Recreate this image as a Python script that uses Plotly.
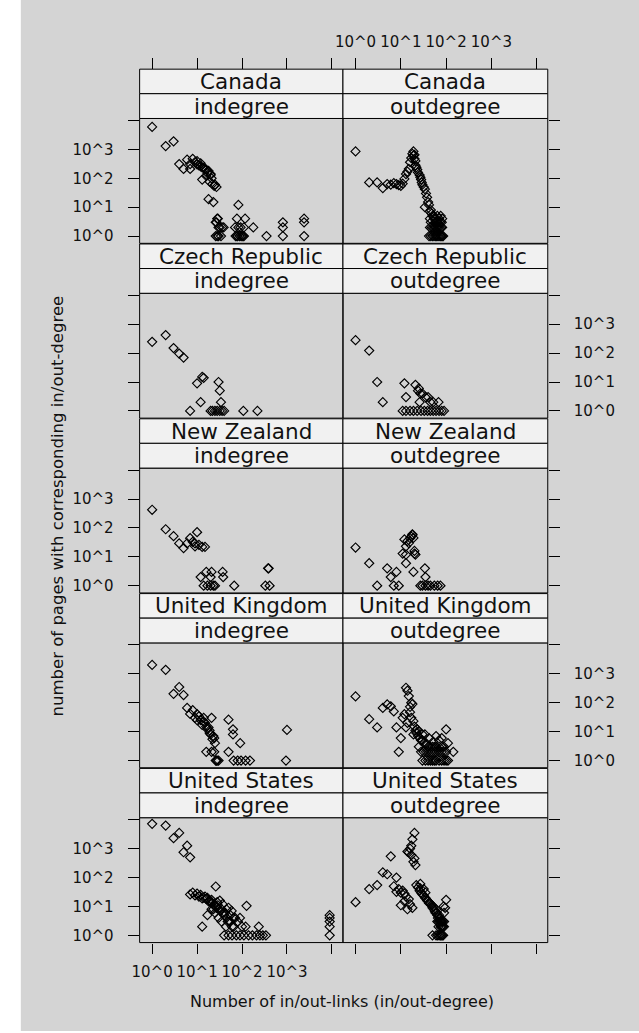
import plotly.graph_objects as go

W, H = 639, 1033

countries = ["Canada", "Czech Republic", "New Zealand", "United Kingdom", "United States"]
directions = ["indegree", "outdegree"]

# ---- data (degree, number of pages) ----
ca_in_x = [1, 2, 3, 4, 5, 7, 6, 8, 7, 9, 11, 13, 15, 18, 13, 16, 19, 22, 24, 18, 23, 28, 26, 30, 39, 26, 34,
           83, 77, 117, 70, 83, 93, 110, 178, 77, 88, 100, 110, 350, 810, 810, 810, 2400, 2400, 2400,
           10, 12, 14, 16, 17, 20, 21, 25, 27, 20, 12, 10, 27, 29, 32, 36, 28, 30, 72, 80, 95, 105]
ca_in_y = [6000, 1300, 1900, 310, 210, 210, 440, 470, 310, 360, 280, 240, 210, 180, 90, 120, 76, 63, 55, 19, 15, 4, 3, 2, 2, 1, 1,
           12, 4, 4, 2, 2, 2, 2, 2, 1, 1, 1, 1, 1, 3, 2, 1, 4, 3, 1,
           300, 260, 230, 200, 150, 130, 100, 60, 50, 140, 330, 390, 3, 4, 2, 2, 1, 1, 1, 1, 1, 1]

ca_out_x = [1, 2, 3, 4, 5, 7, 8, 10, 12, 13, 15, 16, 19, 19, 20, 21, 22, 27, 29, 34, 40, 34, 44, 52, 60, 70, 82,
            44, 56, 68, 82, 42, 50, 58, 66, 75, 82,
            6, 9, 11, 14, 17, 18, 20, 21, 23, 24, 26, 28, 30, 32, 36, 38, 42, 46, 48, 50, 54, 58, 62, 66, 74, 78,
            46, 48, 52, 60, 64, 72, 46, 54, 62, 70, 78, 86, 44, 64, 76, 80]
ca_out_y = [850, 72, 72, 46, 63, 68, 63, 55, 95, 140, 210, 360, 610, 850, 470, 280, 240, 108, 72, 42, 15, 10, 7, 5, 4, 4, 4,
            2, 2, 2, 2, 1, 1, 1, 1, 1, 1,
            60, 58, 65, 170, 500, 700, 650, 400, 200, 160, 130, 90, 60, 50, 30, 22, 12, 8, 6, 5, 4, 3, 3, 3, 3, 2,
            3, 2, 2, 2, 2, 2, 1, 1, 1, 1, 1, 1, 4, 5, 5, 3]

cz_in_x = [1, 2, 3, 4, 5, 10, 13, 14, 12, 7, 30, 32, 34, 20, 22, 25, 28, 32, 36, 40, 107, 220]
cz_in_y = [245, 420, 150, 96, 70, 9, 15, 14, 2, 1, 10, 5, 2, 1, 1, 1, 1, 1, 1, 1, 1, 1]

cz_out_x = [1, 2, 3, 4, 12, 21, 13, 27, 30, 35, 52, 68, 26, 11, 13, 16, 19, 23, 28, 33, 39, 45, 52, 60, 70, 80, 90,
            24, 25, 40, 45]
cz_out_y = [280, 122, 10, 2, 9, 8, 3, 4, 4, 3, 2, 2, 2, 1, 1, 1, 1, 1, 1, 1, 1, 1, 1, 1, 1, 1, 1,
            5, 6, 3, 2]

nz_in_x = [1, 2, 3, 4, 5, 6, 7, 8, 9, 10, 9, 11, 13, 15, 12, 16, 21, 37, 38, 20, 14, 17, 20, 23, 25, 67, 380, 390, 330, 410]
nz_in_y = [425, 90, 52, 29, 20, 29, 44, 33, 29, 71, 23, 26, 22, 22, 2, 3, 3, 3, 2, 2, 1, 1, 1, 1, 1, 1, 4, 4, 1, 1]

nz_out_x = [1, 2, 3, 5, 8, 6, 7, 9, 11, 13, 12, 14, 16, 18, 18, 15, 13, 20, 21, 13, 19, 34, 35, 27, 30, 35, 40, 45, 55, 65, 75,
            17, 19, 20]
nz_out_y = [21, 6, 1, 4, 3, 2, 1, 1, 13, 12, 40, 35, 44, 57, 60, 30, 23, 16, 12, 6, 3, 4, 2, 1, 1, 1, 1, 1, 1, 1, 1,
            50, 45, 13]

uk_in_x = [1, 2, 3, 4, 5, 6, 7, 8, 9, 11, 13, 15, 18, 21, 19, 22, 16, 21, 26, 50, 63, 63, 91, 50, 65, 80, 95, 120, 150, 1000, 950,
           10, 12, 14, 16, 17, 19, 20, 23, 24, 25, 27, 28, 30, 24, 14, 10]
uk_in_y = [2040, 1370, 204, 350, 185, 66, 41, 55, 30, 34, 17, 20, 14, 30, 9, 5.5, 2, 2, 1, 26, 12, 8, 4, 2, 1, 1, 1, 1, 1, 11.5, 1,
           40, 25, 22, 15, 12, 11, 8, 7, 6, 4, 1, 1, 1, 2, 30, 25]

uk_out_x = [1, 2, 3, 4, 5, 6, 7, 8, 11, 10, 9, 13, 14, 15, 16, 13, 16, 17, 19, 20, 21, 19, 30, 34, 42, 52, 100, 110, 144,
            22, 24, 26, 28, 30, 32, 36, 40, 45, 50, 55, 60, 70, 80, 90, 25, 28, 32, 36, 40, 45, 50, 56, 62, 70, 80, 90, 100,
            30, 35, 40, 45, 50, 55, 60, 70, 80, 90, 100, 110, 70, 80, 60, 17, 18, 12, 14, 23, 25]
uk_out_y = [165, 27, 14, 66, 87, 75, 50, 14, 30, 6, 2, 330, 260, 170, 72, 14, 47, 30, 23, 15, 11, 8, 8, 8, 6, 4.5, 12, 4, 2,
            9, 7, 6, 5, 5, 4, 4, 3, 3, 3, 3, 3, 3, 3, 3, 3, 2, 2, 2, 2, 2, 2, 2, 2, 2, 2, 2, 2,
            1, 1, 1, 1, 1, 1, 1, 1, 1, 1, 1, 1, 5, 6, 7, 100, 90, 40, 20, 12, 10]

us_in_x = [1, 2, 3, 4, 5, 6, 7, 26, 7, 9, 11, 13, 15, 18, 13, 17, 21, 28, 32, 37, 50, 59, 70, 90, 126, 236,
           40, 50, 60, 75, 90, 110, 140, 170, 210, 250, 290, 340, 8900, 8900, 8900, 8900,
           8, 10, 12, 14, 16, 19, 20, 22, 24, 25, 27, 29, 30, 33, 35, 38, 40, 42, 45, 48, 52, 55, 60, 65, 44, 35, 30, 25,
           23, 21, 17, 45, 55, 65, 80, 100, 120, 8900]
us_in_y = [7200, 6300, 2300, 3500, 750, 1260, 500, 49, 26, 24, 22, 19, 22, 15, 2, 5, 8, 14, 16, 12, 9, 7, 4, 4, 10.5, 2,
           1, 1, 1, 1, 1, 1, 1, 1, 1, 1, 1, 1, 5, 4, 2, 1,
           30, 28, 25, 20, 18, 16, 14, 13, 12, 10, 9, 11, 8, 7, 8, 6, 5, 6, 4, 3, 3, 3, 2, 2, 2, 3, 4, 6,
           8, 17, 20, 8, 5, 4, 3, 2, 2, 3]

us_out_x = [1, 2, 3, 4, 5, 6, 8, 7, 8, 10, 10, 13, 14, 14, 16, 17, 18, 20, 20, 21, 15, 27, 27, 30, 36, 44, 52, 60, 70, 100, 88, 82,
            68, 50, 60, 70, 82,
            9, 11, 12, 12, 15, 16, 18, 17, 19, 22, 24, 26, 28, 32, 34, 38, 40, 42, 46, 48, 50, 54, 56, 58, 62, 64, 66, 72,
            75, 78, 80, 84, 90, 64, 68, 72, 76, 78, 86, 90, 65, 75, 78, 86, 90, 95, 32, 35]
us_out_y = [14, 40, 55, 150, 130, 540, 100, 50, 32, 30, 11, 22, 8, 790, 1000, 1260, 2100, 3500, 460, 270, 740, 60, 42, 26, 19, 13, 10, 8, 5, 17, 10, 2,
            2, 1, 1, 1, 1,
            40, 35, 28, 15, 18, 12, 9, 600, 350, 55, 45, 35, 30, 24, 20, 16, 15, 13, 12, 11, 9, 8, 7, 6, 6, 5, 4, 4,
            3, 3, 3, 3, 3, 3, 3, 3, 2, 2, 2, 2, 1, 1, 1, 1, 6, 9, 40, 30]

series = [
    (ca_in_x, ca_in_y), (ca_out_x, ca_out_y),
    (cz_in_x, cz_in_y), (cz_out_x, cz_out_y),
    (nz_in_x, nz_in_y), (nz_out_x, nz_out_y),
    (uk_in_x, uk_in_y), (uk_out_x, uk_out_y),
    (us_in_x, us_in_y), (us_out_x, us_out_y),
]

tick_vals = [1, 10, 100, 1000, 10000]
tick_text = ["10^0", "10^1", "10^2", "10^3", ""]

x_title = "Number of in/out-links (in/out-degree)"
y_title = "number of pages with corresponding in/out-degree"

# ---- layout geometry (pixels) ----
FONT = "DejaVu Sans"
BG = "#d4d4d4"
STRIP = "#f1f1f1"
TXT = "#111111"
XL, XM, XR = 133.3, 339.2, 546.6
PITCH = 175.15
S1, S2, PT, PB = 69.3, 93.9, 118.7, 243.8


def px(v):
    return v / W


def py(v):
    return 1 - v / H


fig = go.Figure()
layout = dict(
    width=W, height=H, margin=dict(l=0, r=0, t=0, b=0),
    paper_bgcolor="white", plot_bgcolor=BG, showlegend=False,
)
shapes = [dict(type="rect", xref="paper", yref="paper", x0=px(13), x1=1, y0=0, y1=1,
               fillcolor=BG, line=dict(width=0), layer="below")]
annotations = []

for r in range(5):
    off = r * PITCH
    for c in range(2):
        p = 2 * r + c + 1
        xs, ys = series[p - 1]
        fig.add_trace(go.Scatter(
            x=xs, y=ys, mode="markers", xaxis=f"x{p}", yaxis=f"y{p}",
            marker=dict(symbol="diamond-open", size=7, color="black", line=dict(width=1.15, color="black")),
            hoverinfo="skip"))
        x0, x1 = (XL, XM) if c == 0 else (XM, XR)
        xa = dict(type="log", range=[-0.278, 4.245], domain=[px(x0), px(x1)],
                  showgrid=False, zeroline=False, showline=False,
                  tickvals=tick_vals, ticktext=tick_text, ticks="",
                  tickfont=dict(family=FONT, size=15, color=TXT))
        if r == 0:
            xa.update(anchor="free", position=py(S1 + off), side="top", ticks="outside",
                      ticklen=11, tickcolor="black", tickwidth=1, showticklabels=(c == 1),
                      ticklabelstandoff=5)
        elif r == 4:
            xa.update(anchor=f"y{p}", side="bottom", ticks="outside", ticklen=10,
                      tickcolor="black", tickwidth=1, showticklabels=(c == 0),
                      ticklabelstandoff=5)
        else:
            xa.update(anchor=f"y{p}", showticklabels=False)
        ya = dict(type="log", range=[-0.25, 4.07], domain=[py(PB + off), py(PT + off)],
                  anchor=f"x{p}", side="left" if c == 0 else "right",
                  showgrid=False, zeroline=False, showline=False,
                  tickvals=tick_vals, ticktext=tick_text, ticks="outside", ticklen=11,
                  tickcolor="black", tickwidth=1,
                  showticklabels=((c == 0 and r % 2 == 0) or (c == 1 and r % 2 == 1)),
                  tickfont=dict(family=FONT, size=15, color=TXT), ticklabelstandoff=11)
        layout[f"xaxis{p}"] = xa
        layout[f"yaxis{p}"] = ya

        # panel border
        shapes.append(dict(type="rect", xref="paper", yref="paper", x0=px(x0), x1=px(x1),
                           y0=py(PB + off), y1=py(PT + off), line=dict(color="black", width=1)))
        # strips
        for k, (t0, t1, label) in enumerate([(S1 + off, S2 + off, countries[r]),
                                              (S2 + off, PT + off, directions[c])]):
            shapes.append(dict(type="rect", xref="paper", yref="paper", x0=px(x0), x1=px(x1),
                               y0=py(t1), y1=py(t0), fillcolor=STRIP,
                               line=dict(color="black", width=1)))
            annotations.append(dict(text=label, xref="paper", yref="paper",
                                    x=px((x0 + x1) / 2), y=py((t0 + t1) / 2),
                                    xanchor="center", yanchor="middle", showarrow=False,
                                    font=dict(family=FONT, size=21.5, color=TXT)))

annotations.append(dict(text=x_title, xref="paper", yref="paper", x=px(338), y=py(1003),
                        xanchor="center", yanchor="middle", showarrow=False,
                        font=dict(family=FONT, size=16, color=TXT)))
annotations.append(dict(text=y_title, xref="paper", yref="paper", x=px(50), y=py(507),
                        xanchor="center", yanchor="middle", showarrow=False, textangle=-90,
                        font=dict(family=FONT, size=16.5, color=TXT)))

layout["shapes"] = shapes
layout["annotations"] = annotations
fig.update_layout(**layout)
fig.write_html("out.html", config={"displayModeBar": False},
               post_script="document.body.style.margin='0';document.body.style.overflow='hidden';")
